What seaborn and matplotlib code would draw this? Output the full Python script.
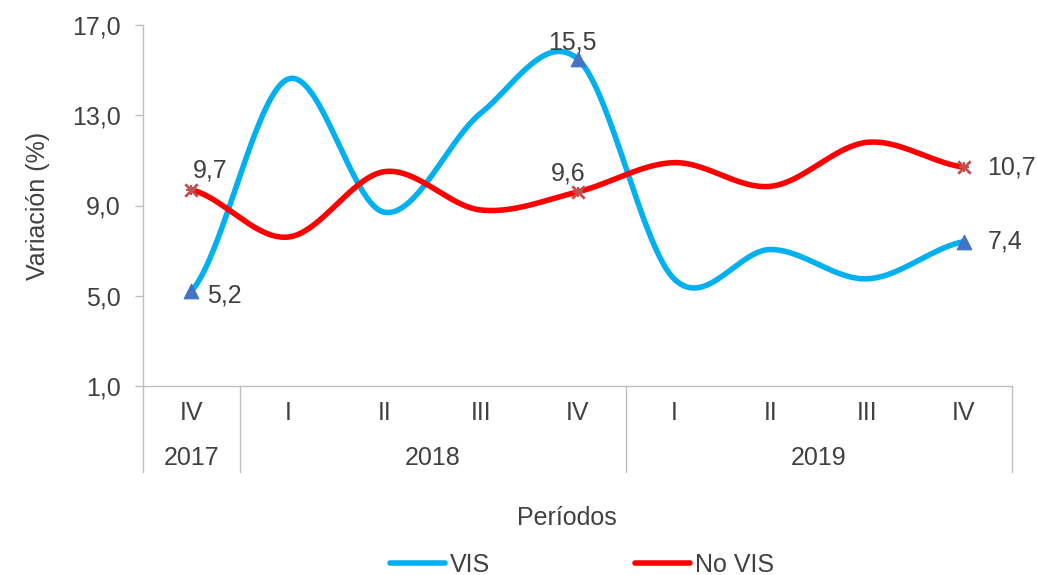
import numpy as np
import pandas as pd
import matplotlib
matplotlib.use('Agg')
import matplotlib.pyplot as plt
from matplotlib.lines import Line2D
import seaborn as sns

# datos
trimestres = ['IV', 'I', 'II', 'III', 'IV', 'I', 'II', 'III', 'IV']
anios = ['2017', '2018', '2019']
anio_span = [(0, 0), (1, 4), (5, 8)]
vis = [5.2, 14.6, 8.7, 13.1, 15.5, 5.75, 7.05, 5.75, 7.4]
no_vis = [9.7, 7.6, 10.5, 8.8, 9.6, 10.9, 9.85, 11.8, 10.7]
marcados = [0, 4, 8]

C_VIS = '#00B0F0'
C_NOVIS = '#FF0000'
GRIS = '#404040'
LINEA = '#BFBFBF'


def suavizar(y, n=40, tension=0.5):
    # curva tipo Catmull-Rom para imitar la línea suavizada de Excel
    y = np.asarray(y, float)
    p = np.concatenate([[y[0]], y, [y[-1]]])
    xs, ys = [], []
    for i in range(len(y) - 1):
        p0, p1, p2, p3 = p[i], p[i + 1], p[i + 2], p[i + 3]
        m1 = tension * (p2 - p0)
        m2 = tension * (p3 - p1)
        t = np.linspace(0, 1, n, endpoint=(i == len(y) - 2))
        h00 = 2 * t**3 - 3 * t**2 + 1
        h10 = t**3 - 2 * t**2 + t
        h01 = -2 * t**3 + 3 * t**2
        h11 = t**3 - t**2
        xs.append(i + t)
        ys.append(h00 * p1 + h10 * m1 + h01 * p2 + h11 * m2)
    return np.concatenate(xs), np.concatenate(ys)


sns.set_theme(style='white')
plt.rcParams['font.family'] = ['Liberation Sans', 'DejaVu Sans']
plt.rcParams['text.color'] = GRIS

fig = plt.figure(figsize=(10.37, 5.75), dpi=100)
ax = fig.add_axes([143 / 1037, 1 - 386 / 575, (1012 - 143) / 1037, 361 / 575])

curvas = []
for nombre, vals in [('VIS', vis), ('No VIS', no_vis)]:
    xs, ys = suavizar(vals)
    curvas.append(pd.DataFrame({'x': xs, 'y': ys, 'serie': nombre}))
curvas = pd.concat(curvas, ignore_index=True)

sns.lineplot(data=curvas, x='x', y='y', hue='serie', palette={'VIS': C_VIS, 'No VIS': C_NOVIS},
             estimator=None, sort=False, lw=4, ax=ax, legend=False)

pts = pd.DataFrame({'x': marcados, 'vis': [vis[i] for i in marcados],
                    'no_vis': [no_vis[i] for i in marcados]})
sns.scatterplot(data=pts, x='x', y='vis', marker='^', s=110, color='#4472C4',
                edgecolor='#4472C4', ax=ax, zorder=5)
sns.scatterplot(data=pts, x='x', y='no_vis', marker='x', s=80, color='#C0504D',
                linewidth=2, ax=ax, zorder=5)
sns.scatterplot(data=pts, x='x', y='no_vis', marker='+', s=60, color='#C0504D',
                linewidth=1.5, ax=ax, zorder=5)


def fmt(v):
    return f'{v:.1f}'.replace('.', ',')


fs = 18
# etiquetas de datos
ax.annotate(fmt(no_vis[0]), (0, no_vis[0]), xytext=(1, 5), textcoords='offset points',
            ha='left', va='bottom', fontsize=fs, color=GRIS)
ax.annotate(fmt(vis[0]), (0, vis[0]), xytext=(11, -3), textcoords='offset points',
            ha='left', va='center', fontsize=fs, color=GRIS)
ax.annotate(fmt(vis[4]), (4, vis[4]), xytext=(-4, 3), textcoords='offset points',
            ha='center', va='bottom', fontsize=fs, color=GRIS)
ax.annotate(fmt(no_vis[4]), (4, no_vis[4]), xytext=(-7, 5), textcoords='offset points',
            ha='center', va='bottom', fontsize=fs, color=GRIS)
ax.annotate(fmt(no_vis[8]), (8, no_vis[8]), xytext=(17, 0), textcoords='offset points',
            ha='left', va='center', fontsize=fs, color=GRIS)
ax.annotate(fmt(vis[8]), (8, vis[8]), xytext=(17, 0), textcoords='offset points',
            ha='left', va='center', fontsize=fs, color=GRIS)

ax.set_xlim(-0.5, len(trimestres) - 0.5)
ax.set_ylim(1, 17)
ax.set_yticks([1, 5, 9, 13, 17])
ax.set_yticklabels([fmt(v) for v in [1, 5, 9, 13, 17]], fontsize=fs, color=GRIS)
ax.set_xticks(range(len(trimestres)))
ax.set_xticklabels(trimestres, fontsize=fs, color=GRIS)
ax.tick_params(axis='x', length=0, pad=11)
ax.tick_params(axis='y', length=6, width=1, color=LINEA, left=True, direction='out', pad=10)
ax.set_xlabel('')
ax.set_ylabel('Variación (%)', fontsize=fs, color=GRIS, labelpad=16)

for s in ['top', 'right']:
    ax.spines[s].set_visible(False)
for s in ['left', 'bottom']:
    ax.spines[s].set_color(LINEA)
    ax.spines[s].set_linewidth(1)

# eje de categorías en dos niveles
trans = ax.get_xaxis_transform()
y_fondo = -(472 - 386) / 361
for x in [-0.5, 0.5, 4.5, 8.5]:
    ax.plot([x, x], [0, y_fondo], transform=trans, color=LINEA, lw=1, clip_on=False)
for etiqueta, (a, b) in zip(anios, anio_span):
    ax.text((a + b) / 2, -(458 - 386) / 361, etiqueta, transform=trans, ha='center',
            va='center', fontsize=fs, color=GRIS)

fig.text(567 / 1037, 1 - 518 / 575, 'Períodos', ha='center', va='center', fontsize=fs, color=GRIS)

# leyenda
handles = [Line2D([], [], color=C_VIS, lw=4), Line2D([], [], color=C_NOVIS, lw=4)]
fig.legend(handles, ['VIS', 'No VIS'], loc='center', bbox_to_anchor=(582 / 1037, 1 - 565 / 575),
           ncol=2, frameon=False, fontsize=fs, handlelength=2.2, handletextpad=0.2,
           columnspacing=5.8, labelcolor=GRIS)

fig.savefig('out.png', dpi=100)
